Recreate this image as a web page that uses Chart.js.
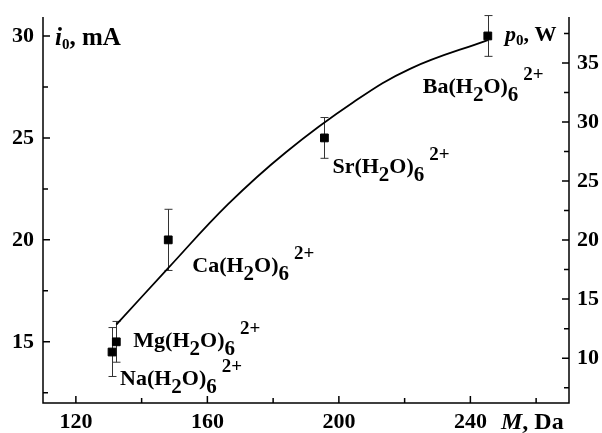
<!DOCTYPE html>
<html>
<head>
<meta charset="utf-8">
<script src="https://cdn.jsdelivr.net/npm/chart.js@4.4.1/dist/chart.umd.min.js"></script>
<style>
  html, body { margin: 0; padding: 0; background: #fff; }
  #wrap { width: 602px; height: 433px; position: relative; }
</style>
</head>
<body>
<div id="wrap"><canvas id="c" width="602" height="433"></canvas></div>
<script>
// Hexaaqua ions: molar mass (Da), breakdown current i0 (mA) and its error
const ions = ['Na', 'Mg', 'Ca', 'Sr', 'Ba'];
const massDa = [131.0, 132.3, 148.1, 195.6, 245.3];
const currentMa = [14.5, 15.0, 20.0, 25.0, 30.0];
const currentErr = [1.2, 1.0, 1.5, 1.0, 1.0];

// Fitted trend curve
const fitMass = [132.3, 148.0, 166.3, 183.9, 204.4, 221.8, 245.3];
const fitCurrent = [15.84, 18.6, 21.75, 24.3, 26.75, 28.4, 29.8];

// Axis ticks
const massTicks = [120, 160, 200, 240];
const massMinor = [140, 180, 220, 260];
const currentTicks = [15, 20, 25, 30];
const currentMinor = [12.5, 17.5, 22.5, 27.5];
const powerTicks = [10, 15, 20, 25, 30, 35];
const powerMinor = [7.5, 12.5, 17.5, 22.5, 27.5, 32.5, 37.5];

// Label placement relative to each marker (pixels)
const labelOffsets = [[8, 26], [17, -2], [24, 25], [8, 28], [-65, 50]];

const SERIF = "'Liberation Serif', 'Times New Roman', serif";
const FS = 22;

function drawParts(ctx, parts, x, baseline) {
  for (const p of parts) {
    const size = p.size || FS;
    x += p.gap || 0;
    ctx.font = (p.italic ? 'italic ' : '') + 'bold ' + size + 'px ' + SERIF;
    ctx.fillText(p.t, x, baseline + (p.dy || 0));
    x += ctx.measureText(p.t).width;
  }
}

function formula(ion) {
  return [
    { t: ion + '(H' },
    { t: '2', dy: 8, size: 21 },
    { t: 'O)' },
    { t: '6', dy: 8, size: 21 },
    { t: '2+', dy: -13, size: 19, gap: 5 }
  ];
}

const decor = {
  id: 'decor',
  beforeDatasetsDraw(chart) {
    const { ctx, scales: { x, y } } = chart;
    ctx.save();
    ctx.strokeStyle = '#333';
    ctx.lineWidth = 1;
    massDa.forEach((m, i) => {
      const px = Math.round(x.getPixelForValue(m)) + 0.5;
      const hi = y.getPixelForValue(currentMa[i] + currentErr[i]);
      const lo = y.getPixelForValue(currentMa[i] - currentErr[i]);
      ctx.beginPath();
      ctx.moveTo(px, hi); ctx.lineTo(px, lo);
      ctx.moveTo(px - 4, hi); ctx.lineTo(px + 4, hi);
      ctx.moveTo(px - 4, lo); ctx.lineTo(px + 4, lo);
      ctx.stroke();
    });
    ctx.restore();
  },
  afterDraw(chart) {
    const { ctx, chartArea: { left, right, top, bottom }, scales: { x, y, y2 } } = chart;
    ctx.save();
    ctx.strokeStyle = '#000';
    ctx.lineWidth = 1.5;
    ctx.beginPath();
    ctx.moveTo(left, top); ctx.lineTo(left, bottom); ctx.lineTo(right, bottom); ctx.lineTo(right, top);
    ctx.stroke();

    ctx.beginPath();
    const tick = (vals, len, scale, kind) => {
      vals.forEach(v => {
        const p = scale.getPixelForValue(v);
        if (kind === 'x') { ctx.moveTo(p, bottom); ctx.lineTo(p, bottom - len); }
        else if (kind === 'l') { ctx.moveTo(left, p); ctx.lineTo(left + len, p); }
        else { ctx.moveTo(right, p); ctx.lineTo(right - len, p); }
      });
    };
    tick(massTicks, 7, x, 'x'); tick(massMinor, 5, x, 'x');
    tick(currentTicks, 7, y, 'l'); tick(currentMinor, 5, y, 'l');
    tick(powerTicks, 7, y2, 'r'); tick(powerMinor, 5, y2, 'r');
    ctx.stroke();

    ctx.fillStyle = '#000';
    ctx.textBaseline = 'alphabetic';
    ctx.textAlign = 'left';
    ions.forEach((ion, i) => {
      const px = x.getPixelForValue(massDa[i]);
      const py = y.getPixelForValue(currentMa[i]);
      const [dx, dy] = labelOffsets[i];
      drawParts(ctx, formula(ion), px + dx, py + dy + 7);
    });

    drawParts(ctx, [{ t: 'i', italic: true, size: 25 }, { t: '0', size: 15, dy: 4 }, { t: ', mA', size: 25 }], left + 12, top + 28);
    drawParts(ctx, [{ t: 'p', italic: true }, { t: '0', size: 15, dy: 4 }, { t: ', W' }], right - 64, top + 24);
    drawParts(ctx, [{ t: 'M', italic: true, size: 24 }, { t: ', Da', size: 24 }], right - 68, bottom + 26);
    ctx.restore();
  }
};

const tickFont = { family: SERIF, size: FS, weight: 'bold' };
const noPad = s => { s.paddingTop = 0; s.paddingBottom = 0; s.paddingLeft = 0; s.paddingRight = 0; };

new Chart(document.getElementById('c'), {
  type: 'scatter',
  data: {
    datasets: [
      {
        type: 'line',
        data: fitMass.map((m, i) => ({ x: m, y: fitCurrent[i] })),
        borderColor: '#000',
        borderWidth: 1.8,
        pointRadius: 0,
        tension: 0.4,
        fill: false,
        yAxisID: 'y'
      },
      {
        data: massDa.map((m, i) => ({ x: m, y: currentMa[i] })),
        pointStyle: 'rect',
        pointRadius: 5.5,
        backgroundColor: '#000',
        borderColor: '#000',
        borderWidth: 1,
        yAxisID: 'y'
      }
    ]
  },
  options: {
    responsive: false,
    animation: false,
    layout: { padding: { top: 17, left: 0, right: 0, bottom: 0 } },
    plugins: { legend: { display: false }, tooltip: { enabled: false } },
    scales: {
      x: {
        type: 'linear', min: 110, max: 270,
        grid: { display: false, drawTicks: false },
        border: { display: false },
        afterBuildTicks: s => { s.ticks = massTicks.map(v => ({ value: v })); },
        afterFit: s => { s.height = 30; noPad(s); },
        ticks: { font: tickFont, color: '#000', padding: 6, maxRotation: 0 }
      },
      y: {
        type: 'linear', position: 'left', min: 12, max: 30.93,
        grid: { display: false, drawTicks: false },
        border: { display: false },
        afterBuildTicks: s => { s.ticks = currentTicks.map(v => ({ value: v })); },
        afterFit: s => { s.width = 43; noPad(s); },
        ticks: { font: tickFont, color: '#000', padding: 9 }
      },
      y2: {
        type: 'linear', position: 'right', min: 6.2, max: 38.9,
        grid: { display: false, drawTicks: false },
        border: { display: false },
        afterBuildTicks: s => { s.ticks = powerTicks.map(v => ({ value: v })); },
        afterFit: s => { s.width = 33; noPad(s); },
        ticks: { font: tickFont, color: '#000', padding: 8 }
      }
    }
  },
  plugins: [decor]
});
</script>
</body>
</html>
